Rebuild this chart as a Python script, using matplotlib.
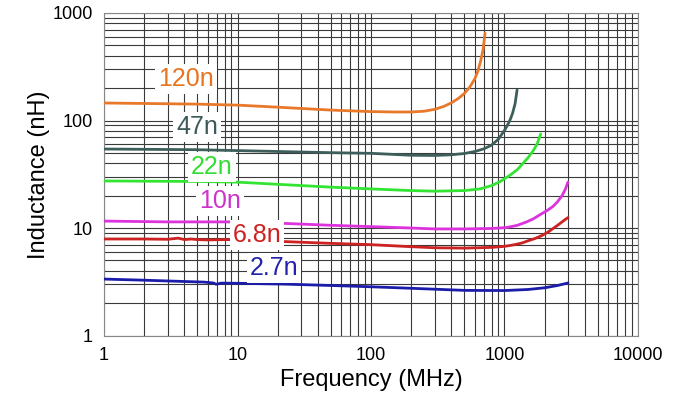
import matplotlib
matplotlib.use("Agg")
import matplotlib.pyplot as plt
from matplotlib.ticker import LogLocator, FixedLocator, NullFormatter

plt.rcParams['font.family'] = ['Liberation Sans', 'DejaVu Sans']

# Данные кривых (частота, МГц -> индуктивность, нГн)
f_120 = [1, 2, 5, 10, 20, 50, 100, 150, 200, 250, 300, 350, 400, 450, 500, 550, 600, 633, 660, 690, 715]
l_120 = [145.5, 144, 142, 139, 133, 125, 121, 120, 120, 122, 127, 135, 146, 160, 178, 205, 245, 290, 350, 450, 650]

f_47 = [1, 5, 10, 20, 50, 100, 200, 300, 400, 500, 600, 700, 800, 900, 958, 1000, 1050, 1100, 1150, 1200, 1242]
l_47 = [54.3, 53.5, 52.5, 51.5, 50.2, 49.5, 47.5, 47.3, 48.0, 49.3, 51.5, 54.5, 59, 67, 75, 81, 90, 101, 117, 143, 192]

f_22 = [1, 5, 10, 20, 50, 100, 200, 300, 500, 655, 800, 925, 1100, 1250, 1377, 1500, 1634, 1750, 1867]
l_22 = [27.4, 27.1, 26.7, 25.5, 24.0, 23.1, 22.3, 22.0, 22.3, 23.1, 24.8, 27, 31, 35, 40, 45, 52, 60, 75]

f_10 = [1, 3, 5, 8.6, 20, 50, 100, 200, 300, 500, 800, 1038, 1250, 1466, 1650, 1845, 2080, 2312, 2500, 2700, 2850, 2990]
l_10 = [11.6, 11.4, 11.4, 11.4, 11.1, 10.6, 10.3, 10.0, 9.8, 9.8, 9.9, 10.1, 10.6, 11.4, 12.2, 13.3, 14.5, 15.9, 17.6, 20, 22.8, 26.7]

f_68 = [1, 2, 3, 3.6, 4.0, 4.5, 5, 6, 8, 10, 23.5, 50, 100, 200, 300, 500, 800, 1000, 1158, 1350, 1500,
        1700, 1900, 2100, 2312, 2500, 2700, 2850, 2990]
l_68 = [7.9, 7.9, 7.85, 8.05, 7.8, 7.9, 7.8, 7.75, 7.8, 7.8, 7.46, 7.2, 7.0, 6.7, 6.55, 6.5, 6.6, 6.75, 6.95, 7.25, 7.6,
        8.0, 8.5, 9.1, 9.9, 10.6, 11.4, 12.0, 12.5]

f_27 = [1, 2, 4, 5.6, 6.6, 6.9, 7.2, 7.5, 8, 10, 22, 50, 100, 200, 500, 1000, 1500, 2000, 2500, 2990]
l_27 = [3.35, 3.27, 3.18, 3.14, 3.08, 3.0, 3.03, 3.07, 3.07, 3.06, 3.01, 2.92, 2.84, 2.75, 2.63, 2.62, 2.68, 2.78, 2.92, 3.08]

curves = [
    (f_120, l_120, '#E8782A'),
    (f_47, l_47, '#3E5E5C'),
    (f_22, l_22, '#33E433'),
    (f_10, l_10, '#DD33DD'),
    (f_68, l_68, '#CC2222'),
    (f_27, l_27, '#1C1CAA'),
]

# Подписи номиналов: текст, x, y, цвет
labels = [
    ('120n', 4.1, 243, '#E8741E'),
    ('47n', 4.97, 87, '#3C5A5A'),
    ('22n', 6.44, 36.9, '#33DD33'),
    ('10n', 7.4, 17.8, '#CC33CC'),
    ('6.8n', 14.0, 8.6, '#CC2222'),
    ('2.7n', 18.8, 4.25, '#2222AA'),
]

fig = plt.figure(figsize=(6.83, 4.01), dpi=100)
ax = fig.add_axes([0.1523, 0.1633, 0.7818, 0.8043])

for f, l, c in curves:
    ax.plot(f, l, color=c, linewidth=2.0, zorder=3, solid_capstyle='round', solid_joinstyle='round')

for txt, x, y, c in labels:
    ax.text(x, y, txt, color=c, fontsize=18, ha='center', va='center', zorder=5,
            bbox=dict(boxstyle='square,pad=0.12', facecolor='white', edgecolor='none'))

ax.set_xscale('log')
ax.set_yscale('log')
ax.set_xlim(1, 10000)
ax.set_ylim(1, 1000)

ax.xaxis.set_major_locator(FixedLocator([1, 10, 100, 1000, 10000]))
ax.yaxis.set_major_locator(FixedLocator([1, 10, 100, 1000]))
ax.set_xticklabels(['1', '10', '100', '1000', '10000'])
ax.set_yticklabels(['1', '10', '100', '1000'])
ax.xaxis.set_minor_locator(LogLocator(base=10, subs=range(2, 10), numticks=20))
ax.yaxis.set_minor_locator(LogLocator(base=10, subs=range(2, 10), numticks=20))
ax.xaxis.set_minor_formatter(NullFormatter())
ax.yaxis.set_minor_formatter(NullFormatter())

ax.grid(True, which='both', color='#3a3a3a', linewidth=0.8, zorder=1)
ax.set_axisbelow(True)
ax.tick_params(which='both', length=0, labelsize=13)
ax.tick_params(axis='x', pad=8)
ax.tick_params(axis='y', pad=8)
for s in ax.spines.values():
    s.set_color('#888888')
    s.set_linewidth(0.8)

ax.set_xlabel('Frequency (MHz)', fontsize=17, labelpad=4)
ax.set_ylabel('Inductance (nH)', fontsize=17, labelpad=2)

fig.savefig('out.png', dpi=100)
